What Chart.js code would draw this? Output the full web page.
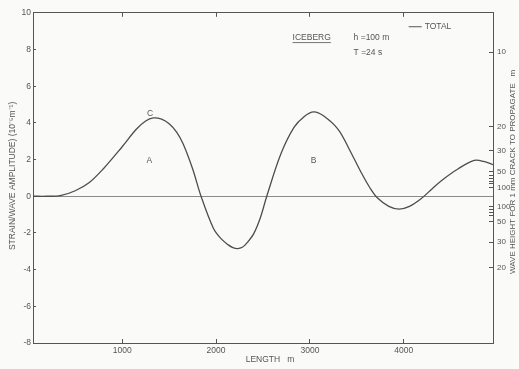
<!DOCTYPE html>
<html>
<head>
<meta charset="utf-8">
<title>Iceberg strain / wave amplitude</title>
<script src="https://cdn.jsdelivr.net/npm/chart.js@4/dist/chart.umd.min.js"></script>
<style>
  html, body { margin: 0; padding: 0; background: #fafaf8; }
  #wrap { width: 519px; height: 369px; }
</style>
</head>
<body>
<div id="wrap"><canvas id="chart" width="519" height="369"></canvas></div>
<script>
// ----- Data -----
const lengthM = [50, 200, 340, 500, 650, 800, 1000, 1150, 1250, 1330, 1420, 1500, 1580, 1650, 1750, 1840,
  1970, 2050, 2130, 2180, 2230, 2280, 2320, 2400, 2470, 2540, 2690, 2830, 2940, 3040, 3140, 3300, 3420, 3540,
  3640, 3720, 3840, 3950, 4060, 4180, 4300, 4400, 4580, 4750, 4850, 4950];
const totalStrain = [0, 0, 0.03, 0.3, 0.75, 1.5, 2.7, 3.65, 4.1, 4.27, 4.2, 3.95, 3.5, 2.85, 1.5, 0,
  -1.73, -2.3, -2.65, -2.8, -2.85, -2.78, -2.6, -2.05, -1.2, 0, 2.3, 3.75, 4.35, 4.6, 4.4, 3.65, 2.55, 1.35,
  0.45, -0.1, -0.55, -0.7, -0.55, -0.15, 0.4, 0.85, 1.5, 1.95, 1.9, 1.72];

const lengthTicks = [1000, 2000, 3000, 4000];

// right-hand axis: wave height labels and where they sit on the strain scale
const waveLabels    = ['10', '20', '30', '50', '', '', '', '', '100', '100', '', '', '', '50', '30', '20'];
const waveTickAtStrain = [7.85, 3.8, 2.5, 1.35, 1.15, 0.98, 0.83, 0.68, 0.45,
  -0.55, -0.72, -0.88, -1.04, -1.4, -2.5, -3.9];

const notes = [
  { text: 'C', x: 1298, y: 4.5, align: 'center' },
  { text: 'A', x: 1288, y: 1.95, align: 'center' },
  { text: 'B', x: 3038, y: 1.95, align: 'center' },
  { text: 'ICEBERG', x: 2815, y: 8.65, align: 'left', underline: true },
  { text: 'h =100 m', x: 3465, y: 8.65, align: 'left' },
  { text: 'T =24 s', x: 3465, y: 7.84, align: 'left' },
];

const INK = '#555';
const FONT = '8.5px "Liberation Sans", Arial, sans-serif';

// ----- Text overlay (titles, labels, legend) -----
const overlay = {
  id: 'overlay',
  afterDraw(chart) {
    const { ctx, scales: { x, y } } = chart;
    ctx.save();
    ctx.fillStyle = INK;
    ctx.strokeStyle = INK;
    ctx.font = FONT;
    ctx.textBaseline = 'middle';

    notes.forEach(n => {
      const px = x.getPixelForValue(n.x), py = y.getPixelForValue(n.y);
      ctx.textAlign = n.align;
      ctx.fillText(n.text, px, py);
      if (n.underline) {
        const w = ctx.measureText(n.text).width;
        ctx.lineWidth = 0.8;
        ctx.beginPath();
        ctx.moveTo(px, py + 5);
        ctx.lineTo(px + w, py + 5);
        ctx.stroke();
      }
    });

    // legend entry
    const ly = y.getPixelForValue(9.24), lx = x.getPixelForValue(4052);
    ctx.lineWidth = 1;
    ctx.beginPath();
    ctx.moveTo(lx, ly);
    ctx.lineTo(lx + 13, ly);
    ctx.stroke();
    ctx.textAlign = 'left';
    ctx.fillText('TOTAL', lx + 16, ly);

    // axis titles
    const cy = (chart.chartArea.top + chart.chartArea.bottom) / 2;
    ctx.textAlign = 'center';
    ctx.fillText('LENGTH   m', 270, 360);

    ctx.save();
    ctx.translate(13, cy - 2);
    ctx.rotate(-Math.PI / 2);
    ctx.fillText('STRAIN/WAVE AMPLITUDE) (10\u207B\u2075m\u207B\u00B9)', 0, 0);
    ctx.restore();

    ctx.font = '8px "Liberation Sans", Arial, sans-serif';
    ctx.save();
    ctx.translate(513, cy - 6);
    ctx.rotate(-Math.PI / 2);
    ctx.fillText('WAVE HEIGHT FOR 1 mm CRACK TO PROPAGATE   m', 0, 0);
    ctx.restore();

    ctx.restore();
  },
};

const tickFont = { family: '"Liberation Sans", Arial, sans-serif', size: 8.5 };
const fixedSize = (prop, v) => scale => { scale[prop] = v; };

new Chart(document.getElementById('chart'), {
  type: 'line',
  data: {
    datasets: [{
      label: 'TOTAL',
      data: lengthM.map((m, i) => ({ x: m, y: totalStrain[i] })),
      borderColor: '#4d4d4d',
      borderWidth: 1.3,
      pointRadius: 0,
      tension: 0.35,
      fill: false,
    }],
  },
  options: {
    responsive: false,
    animation: false,
    layout: { padding: 0 },
    plugins: { legend: { display: false }, tooltip: { enabled: false } },
    scales: {
      x: {
        type: 'linear', position: 'bottom', min: 50, max: 4950,
        afterBuildTicks: s => { s.ticks = lengthTicks.map(v => ({ value: v })); },
        afterFit: fixedSize('height', 26),
        grid: { drawOnChartArea: false, tickLength: -4, tickColor: INK },
        border: { color: INK, width: 1 },
        ticks: { font: tickFont, color: INK, padding: 7, maxRotation: 0, autoSkip: false,
          callback: v => String(v) },
      },
      x2: {
        type: 'linear', position: 'top', min: 50, max: 4950,
        afterBuildTicks: s => { s.ticks = lengthTicks.map(v => ({ value: v })); },
        afterFit: fixedSize('height', 11),
        grid: { drawOnChartArea: false, tickLength: -4, tickColor: INK },
        border: { color: INK, width: 1 },
        ticks: { display: false },
      },
      y: {
        type: 'linear', position: 'left', min: -8, max: 10,
        afterFit: fixedSize('width', 33),
        grid: {
          drawOnChartArea: true,
          color: c => (c.tick && c.tick.value === 0 ? '#8a8a8a' : 'transparent'),
          tickColor: INK, tickLength: -3,
        },
        border: { color: INK, width: 1 },
        ticks: { stepSize: 2, font: tickFont, color: INK, padding: 5 },
      },
      y2: {
        type: 'linear', position: 'right', min: -8, max: 10,
        afterBuildTicks: s => { s.ticks = waveTickAtStrain.map(v => ({ value: v })); },
        afterFit: fixedSize('width', 26),
        grid: { drawOnChartArea: false, tickLength: -4, tickColor: INK },
        border: { color: INK, width: 1 },
        ticks: {
          font: { family: '"Liberation Sans", Arial, sans-serif', size: 8 },
          color: INK, padding: 8, autoSkip: false,
          callback: (v, i) => waveLabels[i],
        },
      },
    },
  },
  plugins: [overlay],
});
</script>
</body>
</html>
